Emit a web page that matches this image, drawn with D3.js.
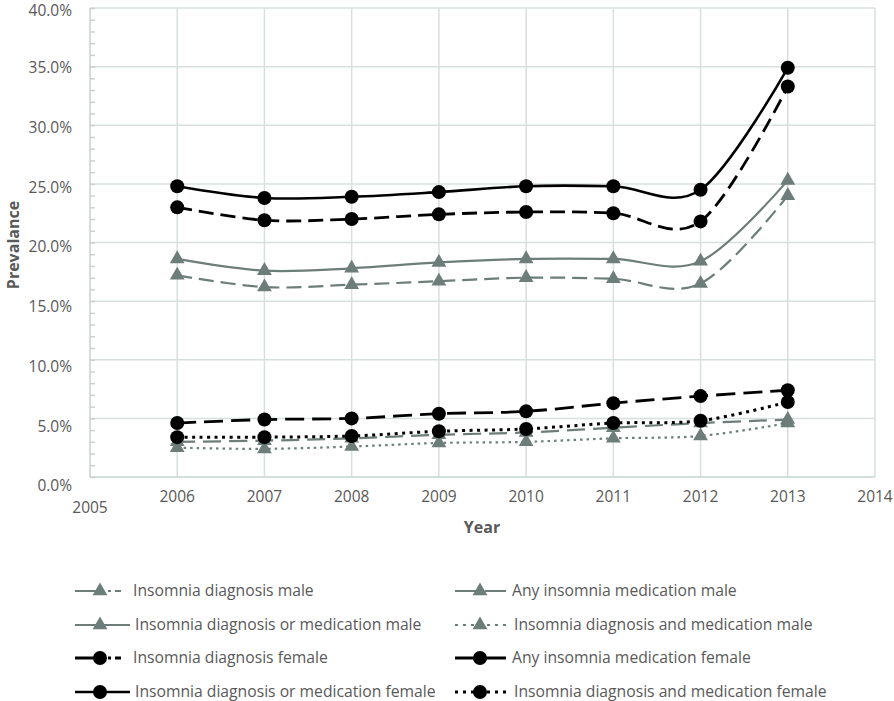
<!DOCTYPE html>
<html><head><meta charset="utf-8">
<script src="https://cdn.jsdelivr.net/npm/d3@7"></script>
<style>body{margin:0;background:#fff}svg{display:block}</style>
</head><body>
<svg id="c" width="894" height="701"></svg>
<script>
const years = [2006, 2007, 2008, 2009, 2010, 2011, 2012, 2013];
const xTickLabels = [2005, 2006, 2007, 2008, 2009, 2010, 2011, 2012, 2013, 2014];
const yTickValues = [0, 5, 10, 15, 20, 25, 30, 35, 40];

const diagMale         = [3.0, 3.1, 3.3, 3.6, 3.8, 4.2, 4.6, 4.9];
const anyMedMale       = [17.2, 16.2, 16.4, 16.7, 17.0, 16.9, 16.5, 24.0];
const diagOrMedMale    = [18.6, 17.6, 17.8, 18.3, 18.6, 18.6, 18.4, 25.3];
const diagAndMedMale   = [2.5, 2.4, 2.6, 2.9, 3.0, 3.3, 3.5, 4.6];
const diagFemale       = [4.6, 4.9, 5.0, 5.4, 5.6, 6.3, 6.9, 7.4];
const anyMedFemale     = [23.0, 21.9, 22.0, 22.4, 22.6, 22.5, 21.8, 33.3];
const diagOrMedFemale  = [24.8, 23.8, 23.9, 24.3, 24.8, 24.8, 24.5, 34.9];
const diagAndMedFemale = [3.4, 3.4, 3.5, 3.9, 4.1, 4.6, 4.8, 6.4];

const seriesNames = [
  "Insomnia diagnosis male", "Any insomnia medication male",
  "Insomnia diagnosis or medication male", "Insomnia diagnosis and medication male",
  "Insomnia diagnosis female", "Any insomnia medication female",
  "Insomnia diagnosis or medication female", "Insomnia diagnosis and medication female"
];
const seriesValues = [diagMale, anyMedMale, diagOrMedMale, diagAndMedMale,
  diagFemale, anyMedFemale, diagOrMedFemale, diagAndMedFemale];

const GREY = "#6d7d7a", BLACK = "#000", TXT = "#595959", GRID = "#d8dfdf";
const styles = [
  {c: GREY, w: 2.2, dash: "18,8", m: "tri", leg: "25,8,3,4,6,300"},
  {c: GREY, w: 2.2, dash: "15,7", m: "tri", leg: "21,9,22"},
  {c: GREY, w: 2.2, dash: null, m: "tri", leg: null},
  {c: GREY, w: 2.2, dash: "2.5,4", m: "tri", leg: "3,5"},
  {c: BLACK, w: 2.8, dash: "19,8", m: "dot", leg: "25,8,3,4,6,300"},
  {c: BLACK, w: 2.8, dash: "15,7", m: "dot", leg: "21,9,22"},
  {c: BLACK, w: 2.6, dash: null, m: "dot", leg: null},
  {c: BLACK, w: 3, dash: "3,4.5", m: "dot", leg: "3,5"}
];

const svg = d3.select("#c");
const FONT = "'Open Sans', sans-serif";
const x = d3.scaleLinear().domain([2005, 2014]).range([90, 875]);
const y = d3.scaleLinear().domain([0, 40]).range([477, 8]);

// gridlines
const g = svg.append("g");
g.selectAll(".hg").data(yTickValues.filter(v => v > 0)).join("line")
  .attr("x1", 90).attr("x2", 875).attr("y1", d => y(d)).attr("y2", d => y(d))
  .attr("stroke", GRID).attr("stroke-width", 1.5);
g.selectAll(".vg").data(xTickLabels.slice(1)).join("line")
  .attr("x1", d => x(d)).attr("x2", d => x(d)).attr("y1", y(40)).attr("y2", y(0))
  .attr("stroke", GRID).attr("stroke-width", 1.5);

// axes
const yAxis = d3.axisRight(y).ticks(40).tickSize(5).tickFormat("");
const ya = svg.append("g").attr("transform", "translate(90,0)").call(yAxis);
ya.selectAll("path,line").attr("stroke", "#c9d2d2").attr("stroke-width", 1.5);
ya.select(".domain").attr("d", `M0,${y(40)}V${y(0)}`);
svg.append("line").attr("x1", 90).attr("x2", 875).attr("y1", y(0)).attr("y2", y(0))
  .attr("stroke", "#c9d2d2").attr("stroke-width", 1.5);

// y labels
svg.append("g").selectAll("text").data(yTickValues).join("text")
  .attr("x", 72).attr("y", d => Math.max(11, y(d) + (40 - d) / 40 * 9))
  .attr("dy", "0.35em").attr("text-anchor", "end")
  .attr("font-family", FONT).attr("font-size", 15.5).attr("fill", TXT)
  .text(d => d3.format(".1f")(d) + "%");

// x labels
svg.append("g").selectAll("text").data(xTickLabels).join("text")
  .attr("x", d => x(d)).attr("y", d => d === 2005 ? 508 : 497)
  .attr("dy", "0.35em").attr("text-anchor", "middle")
  .attr("font-family", FONT).attr("font-size", 15.5).attr("fill", TXT)
  .text(d => d);

// titles
svg.append("text").attr("transform", "translate(13,245) rotate(-90)")
  .attr("text-anchor", "middle").attr("dy", "0.35em")
  .attr("font-family", FONT).attr("font-weight", "bold").attr("font-size", 16).attr("fill", TXT)
  .text("Prevalance");
svg.append("text").attr("x", 482).attr("y", 527).attr("dy", "0.35em")
  .attr("text-anchor", "middle")
  .attr("font-family", FONT).attr("font-weight", "bold").attr("font-size", 16).attr("fill", TXT)
  .text("Year");

// lines
const line = d3.line().x((d, i) => x(years[i])).y(d => y(d)).curve(d3.curveCardinal.tension(0));
const triPath = d3.symbol().type(d3.symbolTriangle).size(95);
function marker(sel, s, cx, cy) {
  if (s.m === "dot") {
    sel.append("circle").attr("cx", cx).attr("cy", cy).attr("r", 7).attr("fill", s.c);
  } else {
    sel.append("path").attr("d", triPath()).attr("transform", `translate(${cx},${cy})`).attr("fill", s.c);
  }
}
const drawOrder = [3, 0, 1, 2, 7, 4, 5, 6];
drawOrder.forEach(k => {
  const s = styles[k];
  const gg = svg.append("g");
  gg.append("path").attr("d", line(seriesValues[k])).attr("fill", "none")
    .attr("stroke", s.c).attr("stroke-width", s.w)
    .attr("stroke-dasharray", s.dash);
  seriesValues[k].forEach((v, i) => marker(gg, s, x(years[i]), y(v)));
});

// legend
const rowsY = [591, 625, 658, 692];
seriesNames.forEach((name, k) => {
  const s = styles[k];
  const col = k % 2, row = Math.floor(k / 2);
  const x0 = col === 0 ? 75 : 455;
  const mx = col === 0 ? 100 : 480;
  const x1 = col === 0 ? 130 : 506;
  const tx = col === 0 ? (row % 2 === 0 ? 133 : 135) : (row % 2 === 0 ? 512 : 514);
  const yy = rowsY[row];
  const lg = svg.append("g");
  lg.append("line").attr("x1", x0).attr("x2", x1).attr("y1", yy).attr("y2", yy)
    .attr("stroke", s.c).attr("stroke-width", s.w).attr("stroke-dasharray", s.leg);
  marker(lg, s, mx, yy);
  lg.append("text").attr("x", tx).attr("y", yy).attr("dy", "0.35em")
    .attr("font-family", FONT).attr("font-size", 15.7).attr("fill", TXT).text(name);
});
</script>
</body></html>
